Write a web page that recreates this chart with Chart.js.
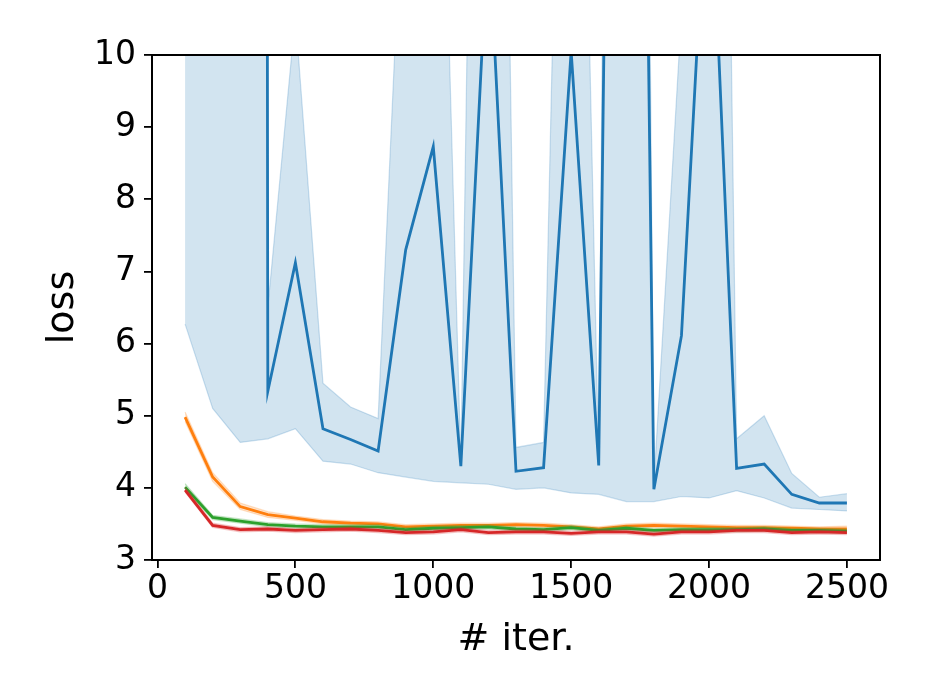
<!DOCTYPE html>
<html lang="en">
<head>
  <meta charset="UTF-8">
  <title>loss vs iter.</title>
  <script src="https://cdn.jsdelivr.net/npm/chart.js"></script>
  <style>
    body {
      margin: 0;
      background: white;
    }
    #wrap {
      width: 934px;
      height: 700px;
    }
  </style>
</head>
<body>
  <div id="wrap">
    <canvas id="lossChart" width="934" height="700"></canvas>
  </div>

  <script>
    // iterations (x)
    const iters = [100, 200, 300, 400, 500, 600, 700, 800, 900, 1000, 1100, 1200, 1300,
                   1400, 1500, 1600, 1700, 1800, 1900, 2000, 2100, 2200, 2300, 2400, 2500];
    const xTicks = [0, 500, 1000, 1500, 2000, 2500];
    const yTicks = [3, 4, 5, 6, 7, 8, 9, 10];

    // blue run (diverges often, goes off the top)
    const blueMean = [300, 300, 300, 5.34, 7.12, 4.82, 4.67, 4.51, 7.30, 8.73, 4.30, 11.8, 4.23,
                      4.28, 10.05, 4.31, 35, 3.98, 6.11, 13.15, 4.27, 4.33, 3.91, 3.79, 3.79];
    const blueLow  = [6.27, 5.10, 4.63, 4.68, 4.82, 4.37, 4.33, 4.21, 4.15, 4.09, 4.07, 4.05, 3.98,
                      4.00, 3.93, 3.91, 3.81, 3.81, 3.88, 3.86, 3.96, 3.86, 3.72, 3.70, 3.68];
    const blueHigh = [900, 900, 900, 6.5, 10.55, 5.45, 5.12, 4.96, 13.4, 18.0, 4.35, 30, 4.56,
                      4.63, 21.8, 4.35, 50, 4.05, 10.57, 32.7, 4.68, 5.00, 4.20, 3.87, 3.92];

    // orange run
    const orangeMean = [4.98, 4.15, 3.74, 3.63, 3.58, 3.53, 3.51, 3.50, 3.46, 3.47, 3.48, 3.48, 3.49,
                        3.48, 3.46, 3.43, 3.47, 3.48, 3.47, 3.46, 3.45, 3.45, 3.44, 3.43, 3.43];
    const orangeLow  = [4.92, 4.09, 3.70, 3.59, 3.55, 3.50, 3.48, 3.47, 3.43, 3.44, 3.45, 3.45, 3.46,
                        3.45, 3.43, 3.40, 3.44, 3.45, 3.44, 3.43, 3.42, 3.42, 3.41, 3.40, 3.40];
    const orangeHigh = [5.05, 4.21, 3.79, 3.67, 3.61, 3.56, 3.54, 3.53, 3.49, 3.50, 3.51, 3.51, 3.52,
                        3.51, 3.49, 3.46, 3.50, 3.51, 3.50, 3.49, 3.48, 3.48, 3.47, 3.46, 3.47];

    // green run
    const greenMean = [4.01, 3.59, 3.54, 3.49, 3.47, 3.46, 3.46, 3.46, 3.42, 3.44, 3.45, 3.46, 3.43,
                       3.42, 3.45, 3.41, 3.44, 3.41, 3.42, 3.42, 3.42, 3.43, 3.41, 3.41, 3.40];
    const greenLow  = [3.97, 3.56, 3.51, 3.46, 3.44, 3.43, 3.43, 3.43, 3.39, 3.41, 3.42, 3.43, 3.40,
                       3.39, 3.42, 3.38, 3.41, 3.38, 3.39, 3.39, 3.39, 3.40, 3.38, 3.38, 3.37];
    const greenHigh = [4.06, 3.62, 3.57, 3.52, 3.50, 3.49, 3.49, 3.49, 3.45, 3.47, 3.48, 3.49, 3.46,
                       3.45, 3.48, 3.44, 3.47, 3.44, 3.45, 3.45, 3.45, 3.46, 3.44, 3.44, 3.43];

    // red run
    const redMean = [3.97, 3.48, 3.42, 3.43, 3.41, 3.42, 3.43, 3.41, 3.38, 3.39, 3.42, 3.38, 3.39,
                     3.39, 3.37, 3.39, 3.39, 3.36, 3.39, 3.39, 3.41, 3.41, 3.38, 3.39, 3.38];
    const redLow  = [3.94, 3.45, 3.39, 3.40, 3.38, 3.39, 3.40, 3.38, 3.35, 3.36, 3.39, 3.35, 3.36,
                     3.36, 3.34, 3.36, 3.36, 3.33, 3.36, 3.36, 3.38, 3.38, 3.35, 3.36, 3.35];
    const redHigh = [4.01, 3.51, 3.45, 3.46, 3.44, 3.45, 3.46, 3.44, 3.41, 3.42, 3.45, 3.41, 3.42,
                     3.42, 3.40, 3.42, 3.42, 3.39, 3.42, 3.42, 3.44, 3.44, 3.41, 3.42, 3.41];

    const fontFamily = "'DejaVu Sans', sans-serif";

    function pts(arr) {
      return iters.map((x, i) => ({ x: x, y: arr[i] }));
    }

    function rgba(rgb, a) {
      return 'rgba(' + rgb.join(',') + ',' + a + ')';
    }

    // low edge, high edge (filled to the low one), then the mean line on top
    function runDatasets(mean, low, high, rgb, order) {
      return [
        {
          data: pts(low), borderColor: rgba(rgb, 0.22), borderWidth: 1.2,
          pointRadius: 0, fill: false, order: order + 1
        },
        {
          data: pts(high), borderColor: rgba(rgb, 0.22), borderWidth: 1.2,
          pointRadius: 0, fill: '-1', backgroundColor: rgba(rgb, 0.2), order: order + 1
        },
        {
          data: pts(mean), borderColor: rgba(rgb, 1), borderWidth: 2.8,
          pointRadius: 0, fill: false, order: order
        }
      ];
    }

    const datasets = [].concat(
      runDatasets(blueMean, blueLow, blueHigh, [31, 119, 180], 6),
      runDatasets(orangeMean, orangeLow, orangeHigh, [255, 127, 14], 4),
      runDatasets(greenMean, greenLow, greenHigh, [44, 160, 44], 2),
      runDatasets(redMean, redLow, redHigh, [214, 39, 40], 0)
    );

    const framePlugin = {
      id: 'frame',
      afterDraw(chart) {
        const { ctx, chartArea: a } = chart;
        ctx.save();
        ctx.strokeStyle = '#000';
        ctx.lineWidth = 2;
        ctx.strokeRect(a.left, a.top, a.right - a.left, a.bottom - a.top);
        ctx.restore();
      }
    };

    new Chart(document.getElementById('lossChart'), {
      type: 'line',
      data: { datasets: datasets },
      plugins: [framePlugin],
      options: {
        responsive: false,
        animation: false,
        layout: { padding: { left: 0, top: 55, right: 54, bottom: 0 } },
        elements: { line: { tension: 0 } },
        plugins: {
          legend: { display: false },
          tooltip: { enabled: false }
        },
        scales: {
          x: {
            type: 'linear',
            min: -20,
            max: 2620,
            afterFit: (scale) => { scale.height = 140; },
            afterBuildTicks: (scale) => { scale.ticks = xTicks.map(v => ({ value: v })); },
            grid: { drawOnChartArea: false, drawTicks: true, tickLength: 8, tickColor: '#000', lineWidth: 1.8 },
            border: { display: false },
            ticks: {
              color: '#000', padding: 2, maxRotation: 0, autoSkip: false,
              callback: (v) => String(v),
              font: { family: fontFamily, size: 33 }
            },
            title: {
              display: true, text: '# iter.', color: '#000',
              padding: { top: 0, bottom: 37 },
              font: { family: fontFamily, size: 38 }
            }
          },
          y: {
            type: 'linear',
            min: 3,
            max: 10,
            afterFit: (scale) => { scale.width = 152; },
            afterBuildTicks: (scale) => { scale.ticks = yTicks.map(v => ({ value: v })); },
            grid: { drawOnChartArea: false, drawTicks: true, tickLength: 8, tickColor: '#000', lineWidth: 1.8 },
            border: { display: false },
            ticks: {
              color: '#000', padding: 8,
              callback: (v) => String(v),
              font: { family: fontFamily, size: 33 }
            },
            title: {
              display: true, text: 'loss', color: '#000',
              padding: { top: 40, bottom: 0 },
              font: { family: fontFamily, size: 38 }
            }
          }
        }
      }
    });
  </script>
</body>
</html>
